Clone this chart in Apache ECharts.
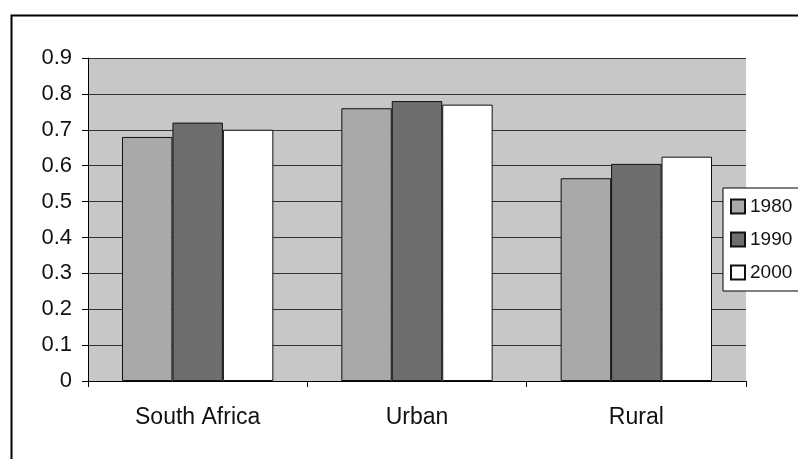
<!DOCTYPE html>
<html>
<head>
<meta charset="utf-8">
<script src="https://cdn.jsdelivr.net/npm/echarts@6/dist/echarts.min.js"></script>
<style>
  html, body { margin: 0; padding: 0; background: #fff; }
  #chart { width: 798px; height: 459px; }
</style>
</head>
<body>
<div id="chart"></div>
<script>
var chart = echarts.init(document.getElementById('chart'));

var regions = ['South Africa', 'Urban', 'Rural'];
var years = ['1980', '1990', '2000'];
var v1980 = [0.68, 0.76, 0.565];
var v1990 = [0.72, 0.78, 0.605];
var v2000 = [0.70, 0.77, 0.625];

var fills = ['#a9a9a9', '#6e6e6e', '#ffffff'];
var font = 'Arial, "Liberation Sans", sans-serif';

function bar(name, data, i) {
    return {
        name: name,
        type: 'bar',
        data: data,
        barGap: '0%',
        barCategoryGap: '31%',
        itemStyle: { color: fills[i], borderColor: '#111', borderWidth: 1 }
    };
}

option = {
    animation: false,
    backgroundColor: '#fff',
    grid: { left: 88, top: 58, right: 52, bottom: 78, show: true, backgroundColor: '#c7c7c7', borderWidth: 0 },
    xAxis: {
        type: 'category',
        data: regions,
        axisLine: { lineStyle: { color: '#000', width: 1 } },
        axisTick: { show: true, length: 6, lineStyle: { color: '#000' } },
        axisLabel: { color: '#111', fontSize: 23, fontFamily: font, margin: 25 }
    },
    yAxis: {
        type: 'value',
        min: 0,
        max: 0.9,
        interval: 0.1,
        axisLine: { show: true, lineStyle: { color: '#000', width: 1 } },
        axisTick: { show: true, length: 6, lineStyle: { color: '#000' } },
        axisLabel: { color: '#111', fontSize: 22, fontFamily: font, margin: 16,
            formatter: function (v) { return +v.toFixed(1) + ''; } },
        splitLine: { show: true, lineStyle: { color: '#333', width: 1 } }
    },
    legend: {
        data: years,
        orient: 'vertical',
        left: 723,
        top: 188,
        backgroundColor: '#fff',
        borderColor: '#000',
        borderWidth: 1,
        padding: [9, 30, 9, 7],
        icon: 'rect',
        itemWidth: 14,
        itemHeight: 14,
        itemGap: 14,
        selectedMode: false,
        textStyle: { color: '#111', fontSize: 19, fontFamily: font }
    },
    graphic: [{
        type: 'rect',
        left: 9, top: 13,
        shape: { width: 820, height: 480 },
        style: { fill: null, stroke: '#000', lineWidth: 2 },
        silent: true,
        z: 100
    }],
    series: [
        bar(years[0], v1980, 0),
        bar(years[1], v1990, 1),
        bar(years[2], v2000, 2)
    ]
};
chart.setOption(option);
</script>
</body>
</html>
